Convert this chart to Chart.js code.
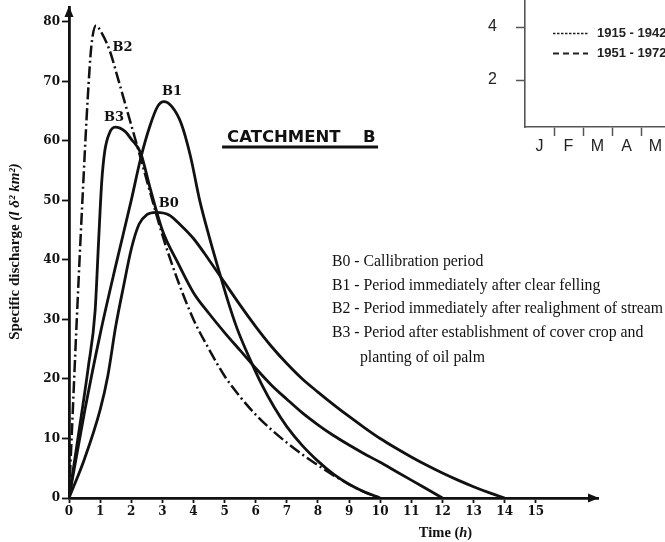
<!DOCTYPE html>
<html>
<head>
<meta charset="utf-8">
<script src="https://cdn.jsdelivr.net/npm/chart.js@4.4.0/dist/chart.umd.min.js"></script>
<style>
  html, body { margin: 0; padding: 0; background: #fff; overflow: hidden; }
  #wrap { position: relative; width: 665px; height: 542px; overflow: hidden; background: #fff; }
  #main { position: absolute; left: 0; top: 0; }
  #inset { position: absolute; left: 470px; top: 0; }
</style>
</head>
<body>
<div id="wrap">
  <canvas id="main" width="665" height="542"></canvas>
  <canvas id="inset" width="200" height="160"></canvas>
</div>
<script>
// hydrograph data (time in h, specific discharge)
const b0Hours = [0, 0.5, 1, 1.25, 1.5, 1.75, 2, 2.25, 2.5, 2.8, 3.2, 3.6, 4, 4.5, 5, 5.5, 6, 6.5, 7, 7.5, 8, 8.5, 9, 9.5, 10, 10.5, 11, 11.5, 12, 12.5, 13, 13.5, 14];
const b0Discharge = [0, 6.6, 14.8, 20.6, 28.8, 35.5, 41.8, 46, 47.6, 48, 47.6, 45.8, 43.6, 40, 36.2, 32.4, 28.8, 25.5, 22.6, 20, 17.8, 15.7, 13.7, 11.8, 10, 8.4, 6.9, 5.5, 4.2, 3, 1.9, 0.9, 0];

const b1Hours = [0, 0.5, 1, 1.5, 2, 2.3, 2.6, 2.85, 3.05, 3.3, 3.6, 3.9, 4.2, 4.5, 4.8, 5.1, 5.4, 5.8, 6.2, 6.6, 7, 7.5, 8, 8.5, 9, 9.5, 10];
const b1Discharge = [0, 14.5, 27.5, 39, 50, 57, 62.5, 65.8, 66.6, 65.8, 63, 57.5, 50, 44, 38.5, 33.2, 28.5, 23.5, 19, 15.2, 12, 8.8, 6.2, 4, 2.3, 1, 0];

const b2Hours = [0, 0.1, 0.25, 0.45, 0.6, 0.72, 0.87, 1, 1.3, 1.6, 1.9, 2.2, 2.6, 3, 3.5, 4, 4.5, 5, 5.5, 6, 6.5, 7, 7.5, 8, 8.5, 9, 9.5, 10];
const b2Discharge = [0, 12, 30, 52, 67, 76, 79.4, 78.6, 75.3, 70, 64.5, 59, 51.5, 44.2, 36.5, 30, 25, 20.5, 17, 14, 11.5, 9.3, 7.3, 5.5, 3.8, 2.3, 1, 0];

const b3Hours = [0, 0.3, 0.62, 0.84, 0.95, 1.05, 1.15, 1.3, 1.48, 1.8, 2, 2.3, 2.6, 3, 3.5, 4, 4.5, 5, 5.5, 6, 6.5, 7, 7.5, 8, 8.5, 9, 9.5, 10, 10.5, 11, 11.5, 12];
const b3Discharge = [0, 10.5, 22, 31.5, 43, 53, 58.3, 61.3, 62.3, 61.6, 60.3, 58, 52.2, 45, 39.5, 34.5, 31, 27.8, 24.8, 21.8, 19, 16.6, 14.3, 12.3, 10.5, 8.9, 7.4, 6, 4.5, 3, 1.5, 0];

const seriesNames = ["B0", "B1", "B2", "B3"];
const seriesNotes = [
  ["Callibration period"],
  ["Period immediately after clear felling"],
  ["Period immediately after realighment of stream"],
  ["Period after establishment of cover crop and", "planting of oil palm"],
];
const timeTicks = [0, 1, 2, 3, 4, 5, 6, 7, 8, 9, 10, 11, 12, 13, 14, 15];
const dischargeTicks = [0, 10, 20, 30, 40, 50, 60, 70, 80];

// inset (fragment of a neighbouring figure)
const months = ["J", "F", "M", "A", "M"];
const periodLabels = ["1915 - 1942", "1951 - 1972"];
const insetTicks = [2, 4];

const ink = "#111";

function toPoints(xs, ys) {
  return xs.map((v, i) => ({ x: v, y: ys[i] }));
}

// where the curve names sit (h, discharge)
const nameAt = [[3.21, 49.4], [3.31, 68.2], [1.72, 75.6], [1.45, 63.9]];

function drawMixed(ctx, parts, cx, cy) {
  let total = 0;
  parts.forEach((p) => { ctx.font = p.font; total += ctx.measureText(p.text).width; });
  let x = cx - total / 2;
  ctx.textAlign = "left";
  parts.forEach((p) => {
    ctx.font = p.font;
    ctx.fillText(p.text, x, cy);
    x += ctx.measureText(p.text).width;
  });
}

const annotate = {
  id: "annotate",
  afterDatasetsDraw(chart) {
    const { ctx, chartArea, scales } = chart;
    const x = scales.x, y = scales.y;
    ctx.save();
    ctx.fillStyle = ink;
    ctx.strokeStyle = ink;

    // arrow heads on the axes
    ctx.beginPath();
    ctx.moveTo(chartArea.left, chartArea.top - 1);
    ctx.lineTo(chartArea.left - 4.5, chartArea.top + 10);
    ctx.lineTo(chartArea.left + 4.5, chartArea.top + 10);
    ctx.closePath();
    ctx.fill();
    ctx.beginPath();
    ctx.moveTo(chartArea.right + 1, chartArea.bottom);
    ctx.lineTo(chartArea.right - 10, chartArea.bottom - 4.5);
    ctx.lineTo(chartArea.right - 10, chartArea.bottom + 4.5);
    ctx.closePath();
    ctx.fill();

    // curve names
    ctx.font = 'bold 13px "DejaVu Serif"';
    ctx.textAlign = "center";
    ctx.textBaseline = "middle";
    seriesNames.forEach((n, i) => {
      ctx.fillText(n, x.getPixelForValue(nameAt[i][0]), y.getPixelForValue(nameAt[i][1]));
    });

    // CATCHMENT B
    ctx.font = 'bold 16.5px "DejaVu Sans"';
    ctx.textAlign = "left";
    ctx.textBaseline = "alphabetic";
    const tx = x.getPixelForValue(5.08), ty = y.getPixelForValue(59.9);
    ctx.fillText("CATCHMENT", tx, ty);
    ctx.fillText("B", tx + 136, ty);
    ctx.lineWidth = 3;
    ctx.beginPath();
    ctx.moveTo(tx - 5, ty + 5.5);
    ctx.lineTo(tx + 151, ty + 5.5);
    ctx.stroke();

    // description block
    ctx.font = '15.8px "Liberation Serif"';
    ctx.textBaseline = "middle";
    const lx = x.getPixelForValue(8.45);
    let ly = y.getPixelForValue(39.6);
    seriesNames.forEach((n, i) => {
      seriesNotes[i].forEach((line, j) => {
        if (j === 0) ctx.fillText(n + " - " + line, lx, ly);
        else ctx.fillText(line, lx + 28, ly);
        ly += j === 0 && seriesNotes[i].length > 1 ? 25 : 23.5;
      });
    });

    // axis titles
    ctx.textBaseline = "middle";
    drawMixed(ctx, [
      { text: "Time (", font: 'bold 14.5px "Liberation Serif"' },
      { text: "h", font: 'bold italic 14.5px "Liberation Serif"' },
      { text: ")", font: 'bold 14.5px "Liberation Serif"' },
    ], x.getPixelForValue(12.1), 533);

    ctx.translate(15, (chartArea.top + chartArea.bottom) / 2 - 1);
    ctx.rotate(-Math.PI / 2);
    drawMixed(ctx, [
      { text: "Specific discharge ", font: 'bold 15px "Liberation Serif"' },
      { text: "(l δ² km²)", font: 'bold italic 15px "Liberation Serif"' },
    ], 0, 0);
    ctx.restore();
  },
};

const lineStyle = { borderColor: ink, borderWidth: 2.8, pointRadius: 0, fill: false, cubicInterpolationMode: "monotone" };
const tickFont = { family: "DejaVu Serif", size: 12, weight: "bold" };

new Chart(document.getElementById("main"), {
  type: "line",
  data: {
    datasets: [
      { label: seriesNames[0], data: toPoints(b0Hours, b0Discharge), ...lineStyle },
      { label: seriesNames[1], data: toPoints(b1Hours, b1Discharge), ...lineStyle },
      { label: seriesNames[2], data: toPoints(b2Hours, b2Discharge), ...lineStyle, borderWidth: 2.5, borderDash: [12, 3.5, 2, 3.5] },
      { label: seriesNames[3], data: toPoints(b3Hours, b3Discharge), ...lineStyle },
    ],
  },
  options: {
    responsive: false,
    animation: false,
    layout: { padding: { top: 7, right: 67, left: 0, bottom: 0 } },
    plugins: { legend: { display: false }, tooltip: { enabled: false } },
    scales: {
      x: {
        type: "linear",
        min: 0,
        max: 17,
        afterFit: (s) => { s.height = 44; s.paddingLeft = 0; s.paddingRight = 0; },
        afterBuildTicks: (s) => { s.ticks = timeTicks.map((v) => ({ value: v })); },
        grid: { drawOnChartArea: false, tickLength: 5, tickWidth: 1.8, tickColor: ink },
        border: { display: true, color: ink, width: 2.8 },
        ticks: { font: tickFont, color: ink, padding: 2, autoSkip: false, maxRotation: 0 },
      },
      y: {
        min: 0,
        max: 82.5,
        afterFit: (s) => { s.width = 69; s.paddingTop = 0; s.paddingBottom = 0; },
        afterBuildTicks: (s) => { s.ticks = dischargeTicks.map((v) => ({ value: v })); },
        grid: { drawOnChartArea: false, tickLength: 7, tickWidth: 1.8, tickColor: ink },
        border: { display: true, color: ink, width: 2.8 },
        ticks: { font: tickFont, color: ink, padding: 2 },
      },
    },
  },
  plugins: [annotate],
});

const insetLegend = {
  id: "insetLegend",
  afterDraw(chart) {
    const { ctx, chartArea } = chart;
    ctx.save();
    chart.data.datasets.forEach((ds, i) => {
      const yy = 33.5 + i * 20;
      ctx.strokeStyle = ds.borderColor;
      ctx.lineWidth = ds.borderWidth;
      ctx.setLineDash(ds.borderDash);
      ctx.beginPath();
      ctx.moveTo(chartArea.left + 28, yy);
      ctx.lineTo(chartArea.left + 63, yy);
      ctx.stroke();
      ctx.setLineDash([]);
      ctx.fillStyle = "#222";
      ctx.font = 'bold 13px "Liberation Sans"';
      ctx.textAlign = "left";
      ctx.textBaseline = "middle";
      ctx.fillText(ds.label, chartArea.left + 72, yy);
    });
    ctx.restore();
  },
};

new Chart(document.getElementById("inset"), {
  type: "line",
  data: {
    labels: months,
    datasets: [
      { label: periodLabels[0], data: [], borderColor: "#222", borderWidth: 1.6, borderDash: [2.5, 1.5] },
      { label: periodLabels[1], data: [], borderColor: "#222", borderWidth: 2, borderDash: [6, 4] },
    ],
  },
  options: {
    responsive: false,
    animation: false,
    layout: { padding: 0 },
    plugins: { legend: { display: false }, tooltip: { enabled: false } },
    scales: {
      x: {
        type: "category",
        offset: true,
        afterFit: (s) => { s.height = 33; s.paddingLeft = 0; s.paddingRight = 0; },
        grid: {
          offset: true,
          drawOnChartArea: false,
          tickLength: 9,
          tickWidth: 1.5,
          tickColor: (c) => (c.index === 0 ? "rgba(0,0,0,0)" : "#555"),
        },
        border: { display: true, color: "#555", width: 1.6 },
        ticks: { font: { family: "Liberation Sans", size: 16 }, color: "#222", padding: 1, autoSkip: false, maxRotation: 0 },
      },
      y: {
        min: 0.23,
        max: 5.02,
        afterFit: (s) => { s.width = 55; s.paddingTop = 0; s.paddingBottom = 0; },
        afterBuildTicks: (s) => { s.ticks = insetTicks.map((v) => ({ value: v })); },
        grid: { drawOnChartArea: false, tickLength: 9, tickWidth: 1.5, tickColor: "#555" },
        border: { display: true, color: "#555", width: 1.6 },
        ticks: { font: { family: "Liberation Sans", size: 16 }, color: "#222", padding: 19 },
      },
    },
  },
  plugins: [insetLegend],
});
</script>
</body>
</html>
